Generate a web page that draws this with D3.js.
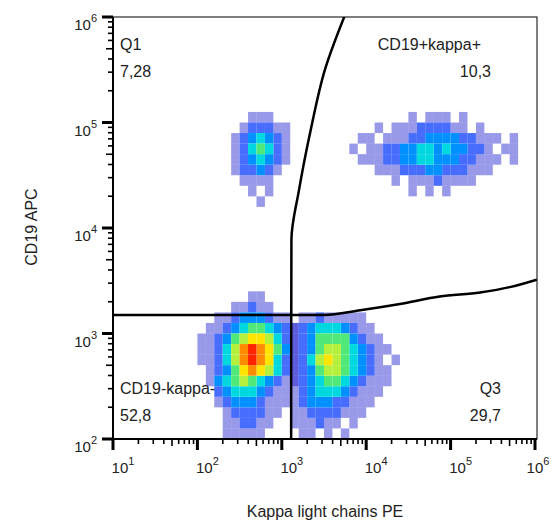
<!DOCTYPE html>
<html>
<head>
<meta charset="utf-8">
<script src="https://cdn.jsdelivr.net/npm/d3@7"></script>
<style>
  body { margin: 0; background: #fff; }
  text { font-family: "Liberation Sans", Arial, sans-serif; }
</style>
</head>
<body>
<svg id="chart" width="553" height="532"></svg>
<script>
// density grid: cells 0.1 decade wide; row r covers log10(y) 6.0-0.1(r+1)..6.0-0.1r,
// col c covers log10(x) 1.0+0.1c..1.0+0.1(c+1). Each entry: [row, startCol, levels]
var upperLeft = [
  [9, 16, "111"], [10, 15, "122211"], [11, 14, "1234321"], [12, 14, "1245421"],
  [13, 14, "1234321"], [14, 14, "122321"], [15, 15, "1111"], [16, 16, "101"], [17, 17, "1"]
];
var upperRight = [
  [9, 35, "1011101"], [10, 31, "1011122221101"], [11, 29, "1101112233332211101"],
  [12, 28, "10112233443433221011"], [13, 29, "1112233443332211101"],
  [14, 31, "11122233222111"], [15, 33, "1011121111"], [16, 35, "10101"]
];
var lowerLeft = [
  [26, 16, "11"], [27, 14, "11211"], [28, 12, "112333211"], [29, 11, "11234554321"],
  [30, 10, "112356776421"], [31, 10, "112468987531"], [32, 10, "112468987421"],
  [33, 10, "012357876421"], [34, 11, "13456543211"], [35, 12, "234443211"],
  [36, 12, "123332111"], [37, 13, "1222211"], [38, 13, "112211"], [39, 13, "11111"]
];
var lowerRight = [
  [28, 22, "11211111"], [29, 21, "1234443211"], [30, 21, "12355553211"],
  [31, 21, "123566543211"], [32, 21, "1246765432101"], [33, 21, "1235665432110"],
  [34, 21, "123455432111"], [35, 21, "12344432111"], [36, 21, "1233322111"],
  [37, 21, "112222111"], [38, 21, "11121101"], [39, 22, "110101"]
];

// gate lines (data units)
var gateVertical = [[1290, 100], [1300, 7700], [1600, 23000], [2200, 85000], [3240, 316000], [5620, 1050000]];
var gateHorizontal = [[9, 1500], [1290, 1500], [3160, 1500], [8500, 1660], [25100, 1900], [74100, 2240], [224000, 2450], [501000, 2750], [1050000, 3240]];

var quadNames = ["Q1", "CD19+kappa+", "CD19-kappa-", "Q3"];
var quadValues = ["7,28", "10,3", "52,8", "29,7"];
var decades = [1, 2, 3, 4, 5, 6];
var yDecades = [2, 3, 4, 5, 6];
var levelColors = ["#ffffff", "#0000c8", "#0a3cff", "#0090ff", "#00d8e0", "#50e878", "#b4f03c", "#ffe400", "#ff8c00", "#ff2400"];

var svg = d3.select("#chart");
var pLeft = 113, pRight = 535, pTop = 17, pBottom = 439;

var x = d3.scaleLog().domain([10, 1e6]).range([pLeft, pRight]);
var y = d3.scaleLog().domain([100, 1e6]).range([pBottom, pTop]);

var plot = svg.append("g");
plot.append("clipPath").attr("id", "clip").append("rect")
  .attr("x", pLeft).attr("y", pTop).attr("width", pRight - pLeft + 2).attr("height", pBottom - pTop);

// density cells
var cells = [];
[upperLeft, upperRight, lowerLeft, lowerRight].forEach(function (group) {
  group.forEach(function (row) {
    row[2].split("").forEach(function (ch, i) {
      var lv = +ch;
      if (lv > 0) cells.push({ r: row[0], c: row[1] + i, lv: lv });
    });
  });
});
cells.sort(function (a, b) { return a.lv - b.lv; });

plot.append("g").attr("clip-path", "url(#clip)")
  .selectAll("rect").data(cells).enter().append("rect")
  .attr("x", d => x(Math.pow(10, 1 + 0.1 * d.c)))
  .attr("y", d => y(Math.pow(10, 6 - 0.1 * d.r)))
  .attr("width", d => x(Math.pow(10, 1.1 + 0.1 * d.c)) - x(Math.pow(10, 1 + 0.1 * d.c)))
  .attr("height", d => y(Math.pow(10, 5.9 - 0.1 * d.r)) - y(Math.pow(10, 6 - 0.1 * d.r)))
  .attr("fill", d => levelColors[d.lv])
  .attr("opacity", d => d.lv === 1 ? 0.4 : (d.lv === 2 ? 0.75 : 1));

// gates
var line = d3.line().x(d => x(d[0])).y(d => y(d[1])).curve(d3.curveMonotoneX);
var lineV = d3.line().x(d => x(d[0])).y(d => y(d[1])).curve(d3.curveMonotoneY);
var gates = plot.append("g").attr("clip-path", "url(#clip)");
gates.append("path").attr("d", lineV(gateVertical)).attr("fill", "none").attr("stroke", "#000").attr("stroke-width", 2.5);
gates.append("path").attr("d", line(gateHorizontal)).attr("fill", "none").attr("stroke", "#000").attr("stroke-width", 2.5);

// frame
svg.append("rect").attr("x", pLeft).attr("y", pTop).attr("width", pRight - pLeft + 2).attr("height", pBottom - pTop)
  .attr("fill", "none").attr("stroke", "#000").attr("stroke-width", 1);

// axes
var minorX = [], minorY = [];
for (var e = 1; e < 6; e++) for (var m = 2; m < 10; m++) minorX.push(m * Math.pow(10, e));
for (var e2 = 2; e2 < 6; e2++) for (var m2 = 2; m2 < 10; m2++) minorY.push(m2 * Math.pow(10, e2));

var ax = svg.append("g");
ax.append("line").attr("x1", pLeft).attr("x2", pRight + 2).attr("y1", pBottom).attr("y2", pBottom).attr("stroke", "#000").attr("stroke-width", 2);
ax.append("line").attr("x1", pLeft).attr("x2", pLeft).attr("y1", pTop).attr("y2", pBottom).attr("stroke", "#000").attr("stroke-width", 2);
ax.selectAll(".mx").data(minorX).enter().append("line")
  .attr("x1", d => x(d)).attr("x2", d => x(d)).attr("y1", pBottom).attr("y2", d => pBottom + (String(d)[0] === "5" ? 7 : 5))
  .attr("stroke", "#000").attr("stroke-width", 1.6);
ax.selectAll(".Mx").data(decades).enter().append("line")
  .attr("x1", d => x(Math.pow(10, d))).attr("x2", d => x(Math.pow(10, d))).attr("y1", pBottom).attr("y2", pBottom + 11)
  .attr("stroke", "#000").attr("stroke-width", 3);
ax.selectAll(".my").data(minorY).enter().append("line")
  .attr("y1", d => y(d)).attr("y2", d => y(d)).attr("x1", pLeft).attr("x2", d => pLeft - (String(d)[0] === "5" ? 7 : 5))
  .attr("stroke", "#000").attr("stroke-width", 1.6);
ax.selectAll(".My").data(yDecades).enter().append("line")
  .attr("y1", d => y(Math.pow(10, d))).attr("y2", d => y(Math.pow(10, d))).attr("x1", pLeft).attr("x2", pLeft - 11)
  .attr("stroke", "#000").attr("stroke-width", 3);

var xl = ax.selectAll(".xl").data(decades).enter().append("text")
  .attr("x", d => x(Math.pow(10, d)) + (d === 6 ? 3 : 10)).attr("y", 473)
  .attr("text-anchor", "middle").attr("font-size", 15).attr("fill", "#222");
xl.append("tspan").text("10");
xl.append("tspan").attr("dy", -8).attr("font-size", 11).text(d => d);

var yl = ax.selectAll(".yl").data(yDecades).enter().append("text")
  .attr("x", 97).attr("y", d => y(Math.pow(10, d)) + 13)
  .attr("text-anchor", "end").attr("font-size", 15).attr("fill", "#222");
yl.append("tspan").text("10");
yl.append("tspan").attr("dy", -8).attr("font-size", 11).text(d => d);

svg.append("text").attr("x", 325).attr("y", 517).attr("text-anchor", "middle")
  .attr("font-size", 16).attr("fill", "#222").text("Kappa light chains PE");
svg.append("text").attr("transform", "translate(37,227) rotate(-90)").attr("text-anchor", "middle")
  .attr("font-size", 16).attr("fill", "#222").text("CD19 APC");

// quadrant labels (layout positions in pixels)
var qPos = [
  { x: 120, y: 50, nx: 120, anchor: "start" },
  { x: 481, y: 50, nx: 491, anchor: "end" },
  { x: 120, y: 394, nx: 120, anchor: "start" },
  { x: 501, y: 394, nx: 501, anchor: "end" }
];
quadNames.forEach(function (n, i) {
  var p = qPos[i];
  svg.append("text").attr("x", p.x).attr("y", p.y).attr("text-anchor", p.anchor)
    .attr("font-size", 16).attr("fill", "#222").text(n);
  svg.append("text").attr("x", p.nx).attr("y", p.y + 27).attr("text-anchor", p.anchor)
    .attr("font-size", 16).attr("fill", "#222").text(quadValues[i]);
});
</script>
</body>
</html>
